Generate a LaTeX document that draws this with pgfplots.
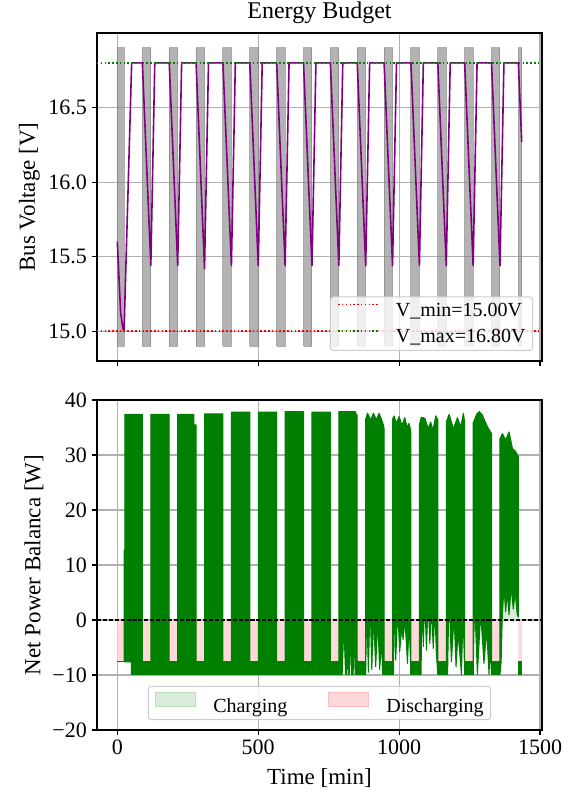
\documentclass[border=0pt]{standalone}
\usepackage{pgfplots}
\pgfplotsset{compat=1.18}
\usepackage{fontspec}
\setmainfont{Liberation Serif}
\definecolor{gridgray}{RGB}{176,176,176}
\definecolor{mpurple}{RGB}{128,0,128}
\definecolor{mgreen}{RGB}{0,128,0}
\definecolor{lgreen}{RGB}{217,236,217}
\definecolor{lgreenedge}{RGB}{190,222,190}
\definecolor{lpink}{RGB}{255,217,217}
\definecolor{lpinkedge}{RGB}{255,190,190}
\definecolor{legedge}{RGB}{204,204,204}
\definecolor{mgray}{RGB}{128,128,128}
\definecolor{mred}{RGB}{255,0,0}
\pgfplotsset{
  base/.style={
    scale only axis, width=445pt,
    xmin=-72, xmax=1507,
    axis line style={line width=1.1pt},
    every tick/.style={line width=1.1pt, black},
    tick align=outside, major tick length=5pt,
    xtick pos=left, ytick pos=left,
    xtick={0,500,1000,1500},
    grid=major, major grid style={line width=1.1pt, gridgray},
    tick label style={font=\fontsize{22}{26}\selectfont, inner sep=0pt},
    label style={font=\fontsize{23}{27}\selectfont, inner sep=0pt},
    yticklabel style={anchor=east, xshift=-5pt},
    xticklabel style={anchor=north, yshift=-5pt},
    legend cell align=left,
    unbounded coords=jump,
  }
}
\begin{document}
\begin{tikzpicture}
\useasboundingbox (-97pt,-64pt) rectangle (482pt,730pt);
% ---------------- top axis ----------------
\begin{axis}[base, at={(0pt,369pt)}, anchor=south west, height=328pt,
  ymin=14.8, ymax=17.0,
  ytick={15,15.5,16,16.5}, yticklabels={15.0,15.5,16.0,16.5},
  xticklabels={},
  title={Energy Budget},
  title style={at={(axis description cs:0.5,1)}, anchor=base, yshift=8pt, font=\fontsize{24}{28}\selectfont},
  ylabel={Bus Voltage [V]},
  ylabel style={at={(axis description cs:-0.128,0.5)}, anchor=south},
  legend style={at={(axis description cs:1,0)}, anchor=south east, xshift=-9pt, yshift=10pt,
    font=\fontsize{20}{24}\selectfont, fill=white, fill opacity=0.8, text opacity=1,
    draw=legedge, line width=1pt, rounded corners=3pt, inner xsep=7pt, inner ysep=6pt,
    row sep=12pt, nodes={inner sep=0pt}},
  legend image code/.code={\draw[#1] (0pt,6pt) -- (40pt,6pt); \path (57pt,6pt);},
]
% eclipse bars
\addplot[forget plot, fill=mgray, fill opacity=0.6, draw=mgray, draw opacity=0.6, line width=1pt] coordinates {
(0,14.9) (0,16.9) (24,16.9) (24,14.9) (0,14.9) (0,nan)
(89.0,14.9) (89.0,16.9) (119.0,16.9) (119.0,14.9) (89.0,14.9) (89.0,nan)
(184.3,14.9) (184.3,16.9) (214.3,16.9) (214.3,14.9) (184.3,14.9) (184.3,nan)
(279.6,14.9) (279.6,16.9) (309.6,16.9) (309.6,14.9) (279.6,14.9) (279.6,nan)
(374.9,14.9) (374.9,16.9) (404.9,16.9) (404.9,14.9) (374.9,14.9) (374.9,nan)
(470.2,14.9) (470.2,16.9) (500.2,16.9) (500.2,14.9) (470.2,14.9) (470.2,nan)
(565.5,14.9) (565.5,16.9) (595.5,16.9) (595.5,14.9) (565.5,14.9) (565.5,nan)
(660.8,14.9) (660.8,16.9) (690.8,16.9) (690.8,14.9) (660.8,14.9) (660.8,nan)
(756.1,14.9) (756.1,16.9) (786.1,16.9) (786.1,14.9) (756.1,14.9) (756.1,nan)
(851.4,14.9) (851.4,16.9) (881.4,16.9) (881.4,14.9) (851.4,14.9) (851.4,nan)
(946.7,14.9) (946.7,16.9) (976.7,16.9) (976.7,14.9) (946.7,14.9) (946.7,nan)
(1042.0,14.9) (1042.0,16.9) (1072.0,16.9) (1072.0,14.9) (1042.0,14.9) (1042.0,nan)
(1137.3,14.9) (1137.3,16.9) (1167.3,16.9) (1167.3,14.9) (1137.3,14.9) (1137.3,nan)
(1232.6,14.9) (1232.6,16.9) (1262.6,16.9) (1262.6,14.9) (1232.6,14.9) (1232.6,nan)
(1327.9,14.9) (1327.9,16.9) (1357.9,16.9) (1357.9,14.9) (1327.9,14.9) (1327.9,nan)
(1423.2,14.9) (1423.2,16.9) (1436,16.9) (1436,14.9) (1423.2,14.9)
};
% bus voltage
\addplot[forget plot, mpurple, line width=1.6pt, line join=round] coordinates {
(0,15.60) (12,15.12) (20,15.02) (24,15.00) (51,16.80) (89.0,16.80) (119.0,15.44) (133,16.80)
(184.3,16.80) (214.3,15.44) (228.3,16.80)
(279.6,16.80) (309.6,15.42) (323.6,16.80)
(374.9,16.80) (404.9,15.44) (418.9,16.80)
(470.2,16.80) (500.2,15.44) (514.2,16.80)
(565.5,16.80) (595.5,15.44) (609.5,16.80)
(660.8,16.80) (690.8,15.44) (704.8,16.80)
(756.1,16.80) (786.1,15.44) (800.1,16.80)
(851.4,16.80) (881.4,15.44) (895.4,16.80)
(946.7,16.80) (976.7,15.44) (990.7,16.80)
(1042.0,16.80) (1072.0,15.44) (1086.0,16.80)
(1137.3,16.80) (1167.3,15.44) (1181.3,16.80)
(1232.6,16.80) (1262.6,15.44) (1276.6,16.80)
(1327.9,16.80) (1357.9,15.44) (1371.9,16.80)
(1423.2,16.80) (1435,16.27)
};
\addplot[draw=mred, line width=1.5pt, dash pattern=on 1.5pt off 2.3pt] coordinates {(-72,15.0) (1507,15.0)};
\addlegendentry{V\_min=15.00V}
\addplot[draw=mgreen, line width=1.5pt, dash pattern=on 1.5pt off 2.3pt] coordinates {(-72,16.8) (1507,16.8)};
\addlegendentry{V\_max=16.80V}
\end{axis}
% ---------------- bottom axis ----------------
\begin{axis}[base, at={(0pt,0pt)}, anchor=south west, height=330pt,
  ymin=-20, ymax=40,
  ytick={-20,-10,0,10,20,30,40}, yticklabels={−20,−10,0,10,20,30,40},
  xticklabels={0,500,1000,1500},
  xlabel={Time [min]},
  xlabel style={at={(axis description cs:0.5,0)}, anchor=base, yshift=-54pt},
  ylabel={Net Power Balanca [W]},
  ylabel style={at={(axis description cs:-0.12,0.5)}, anchor=south},
  legend columns=2,
  legend style={at={(axis description cs:0.5,0)}, anchor=south, yshift=10pt,
    font=\fontsize{20}{24}\selectfont, fill=white, fill opacity=0.8, text opacity=1,
    draw=legedge, line width=1pt, rounded corners=3pt, inner xsep=7pt, inner ysep=6pt,
    nodes={inner sep=0pt}, /tikz/every even column/.append style={column sep=41pt}},
  legend image code/.code={\draw[#1, sharp corners, fill opacity=1] (0pt,-1pt) rectangle (40pt,13pt); \path (57pt,6pt);},
]
% discharging (pink) in eclipse
\addplot[forget plot, fill=lpink, draw=none] coordinates {
(0,0) (0,-7.6) (24,-7.6) (24,0) (0,nan)
(89.0,0) (89.0,-7.6) (119.0,-7.6) (119.0,0) (89.0,nan)
(184.3,0) (184.3,-7.6) (214.3,-7.6) (214.3,0) (184.3,nan)
(279.6,0) (279.6,-7.6) (309.6,-7.6) (309.6,0) (279.6,nan)
(374.9,0) (374.9,-7.6) (404.9,-7.6) (404.9,0) (374.9,nan)
(470.2,0) (470.2,-7.6) (500.2,-7.6) (500.2,0) (470.2,nan)
(565.5,0) (565.5,-7.6) (595.5,-7.6) (595.5,0) (565.5,nan)
(660.8,0) (660.8,-7.6) (690.8,-7.6) (690.8,0) (660.8,nan)
(756.1,0) (756.1,-7.6) (786.1,-7.6) (786.1,0) (756.1,nan)
(851.4,0) (851.4,-7.6) (881.4,-7.6) (881.4,0) (851.4,nan)
(946.7,0) (946.7,-7.6) (976.7,-7.6) (976.7,0) (946.7,nan)
(1042.0,0) (1042.0,-7.6) (1072.0,-7.6) (1072.0,0) (1042.0,nan)
(1137.3,0) (1137.3,-7.6) (1167.3,-7.6) (1167.3,0) (1137.3,nan)
(1232.6,0) (1232.6,-7.6) (1262.6,-7.6) (1262.6,0) (1232.6,nan)
(1327.9,0) (1327.9,-7.6) (1357.9,-7.6) (1357.9,0) (1327.9,nan)
(1423.2,0) (1423.2,-7.6) (1436,-7.6) (1436,0)
};
% charging (light green) in last orbit
\addplot[forget plot, fill=lgreen, draw=none] coordinates {
(1364,0) (1366,0.5) (1372,6) (1378,1.5) (1384,5) (1390,1) (1398,6) (1405,2) (1412,5) (1419,1) (1423.2,0.5) (1423.2,0)
} -- cycle;
% eclipse band of the power line
\addplot[forget plot, fill=mgreen, draw=mgreen, line width=1pt] coordinates {
(89.0,-9.9) (89.0,-7.6) (119.0,-7.6) (119.0,-9.9) (89.0,-9.9) (89.0,nan)
(184.3,-9.9) (184.3,-7.6) (214.3,-7.6) (214.3,-9.9) (184.3,-9.9) (184.3,nan)
(279.6,-9.9) (279.6,-7.6) (309.6,-7.6) (309.6,-9.9) (279.6,-9.9) (279.6,nan)
(374.9,-9.9) (374.9,-7.6) (404.9,-7.6) (404.9,-9.9) (374.9,-9.9) (374.9,nan)
(470.2,-9.9) (470.2,-7.6) (500.2,-7.6) (500.2,-9.9) (470.2,-9.9) (470.2,nan)
(565.5,-9.9) (565.5,-7.6) (595.5,-7.6) (595.5,-9.9) (565.5,-9.9) (565.5,nan)
(660.8,-9.9) (660.8,-7.6) (690.8,-7.6) (690.8,-9.9) (660.8,-9.9) (660.8,nan)
(756.1,-9.9) (756.1,-7.6) (786.1,-7.6) (786.1,-9.9) (756.1,-9.9) (756.1,nan)
(851.4,-9.9) (851.4,-7.6) (881.4,-7.6) (881.4,-9.9) (851.4,-9.9) (851.4,nan)
(946.7,-9.9) (946.7,-7.6) (976.7,-7.6) (976.7,-9.9) (946.7,-9.9) (946.7,nan)
(1042.0,-9.9) (1042.0,-7.6) (1072.0,-7.6) (1072.0,-9.9) (1042.0,-9.9) (1042.0,nan)
(1137.3,-9.9) (1137.3,-7.6) (1167.3,-7.6) (1167.3,-9.9) (1137.3,-9.9) (1137.3,nan)
(1232.6,-9.9) (1232.6,-7.6) (1262.6,-7.6) (1262.6,-9.9) (1232.6,-9.9) (1232.6,nan)
(1327.9,-9.9) (1327.9,-7.6) (1357.9,-7.6) (1357.9,-9.9) (1327.9,-9.9) (1327.9,nan)
(1423.2,-9.9) (1423.2,-7.6) (1436,-7.6) (1436,-9.9) (1423.2,-9.9)
};
\addplot[forget plot, mgreen, line width=1.3pt] coordinates {(0,-7.6) (24,-7.6)};
% sunlit orbits: fast oscillating net power (envelopes)
\addplot[forget plot, fill=mgreen, draw=mgreen, line width=1pt, line join=round] coordinates {
(24,-7.6) (24,12.7) (27,12.7) (27,37.4) (89,37.4) (89,-9.9) (49.6,-9.9) (49.6,-7.6) (24,-7.6) (24,nan)
(119.0,-9.9) (119.0,37.4) (184.3,37.4) (184.3,-9.9) (119.0,-9.9) (119,nan)
(214.3,-9.9) (214.3,37.4) (272,37.4) (272,35.5) (279.6,35.5) (279.6,-9.9) (214.3,-9.9) (214.3,nan)
(309.6,-9.9) (309.6,37.5) (374.9,37.5) (374.9,-9.9) (309.6,-9.9) (309.6,nan)
(404.9,-9.9) (404.9,37.8) (470.2,37.8) (470.2,-9.9) (404.9,-9.9) (404.9,nan)
(500.2,-9.9) (500.2,37.8) (565.5,37.8) (565.5,-9.9) (500.2,-9.9) (500.2,nan)
(595.5,-9.9) (595.5,37.9) (660.8,37.9) (660.8,-9.9) (595.5,-9.9) (595.5,nan)
(690.8,-9.9) (690.8,37.8) (756.1,37.8) (756.1,-9.9) (690.8,-9.9) (690.8,nan)
(786.1,-9.9) (786.1,37.9) (845,37.9) (848,37.3) (851.4,37.3) (851.4,-9.9) (844,-9.9) (840,-1.5) (837,-9.9) (831,-9.9) (827,-2.7) (823,-9.9) (819,-9.9) (816,-2) (813,-9.9) (810,-9.9) (804,-1) (798,-9.9) (786.1,-9.9) (786.1,nan)
(881.4,-9.9) (881.4,36.5) (887.7,37.6) (899.5,36.4) (909,37.6) (919.6,36.4) (929,37.6) (938,36.4) (944,35.5) (946.7,34.8) (946.7,-9.9) (942,-9.9) (938,-4) (931,-9) (924,0) (917,-8.5) (909,0.5) (903,-9) (897,3.5) (891,-9.5) (885,2) (881.4,-9.9) (881.4,nan)
(976.7,-9.9) (976.7,36.5) (982.3,37.1) (990,35.75) (1000,37.0) (1010,35.4) (1020,36.8) (1028,35.1) (1035.5,35.75) (1042,34.2) (1042,-9.9) (1035.5,-0.6) (1029.6,-7.9) (1021,0) (1014,-3.6) (1009.5,-1.2) (1002,-5.8) (995,1.8) (988,-7.3) (983.5,4.8) (980,-9.9) (976.7,-9.9) (976.7,nan)
(1072,-9.9) (1072,35.5) (1078,36.8) (1086,36.8) (1092,36.6) (1103,34.8) (1112,36.0) (1120,34.5) (1130,37.1) (1137.3,36.4) (1137.3,-9.9) (1132,-6) (1127,2) (1121,-5.2) (1115,2.4) (1109,-4.3) (1103,3.6) (1097,-5.5) (1091,4.2) (1086,-4.8) (1081,4.8) (1078,-9.9) (1072,-9.9) (1072,nan)
(1167.3,-9.9) (1167.3,36.0) (1177.4,37.4) (1192.7,34.8) (1207,36.8) (1218.7,35.1) (1228,37.6) (1232.6,36.0) (1232.6,-9.9) (1227,1.2) (1221,-9.9) (1215,-6) (1209,-2.4) (1202,-8.5) (1195,0.6) (1185.5,-7.6) (1177,4.8) (1172,-9.9) (1167.3,-9.9) (1167.3,nan)
(1262.6,-9.9) (1262.6,35.8) (1275,37.4) (1284,37.9) (1295,37.3) (1305,36.1) (1315,35.0) (1327.9,33.9) (1327.9,-9.9) (1323,-5) (1319,-9.9) (1310.8,-1.8) (1301,-7.9) (1289.5,1.2) (1277.7,-9.9) (1268,3.6) (1262.6,-9.9) (1262.6,nan)
(1357.9,-9.9) (1357.9,33.0) (1366.5,33.9) (1378,32.7) (1390,34.2) (1402,31.2) (1408,30.9) (1414,30.6) (1419.6,30.0) (1423.2,29.7) (1423.2,0.5) (1419,1) (1412,5) (1405,2) (1398,6) (1390,1) (1384,5) (1378,1.5) (1372,6) (1366,0.5) (1362,-7.6) (1357.9,-9.9)
};
\addplot[forget plot, black, line width=1.1pt, dash pattern=on 4.1pt off 1.8pt] coordinates {(-72,0) (1507,0)};
\addlegendimage{fill=lgreen, draw=lgreenedge, line width=1pt}
\addlegendentry{Charging}
\addlegendimage{fill=lpink, draw=lpinkedge, line width=1pt}
\addlegendentry{Discharging}
\end{axis}
\end{tikzpicture}
\end{document}
